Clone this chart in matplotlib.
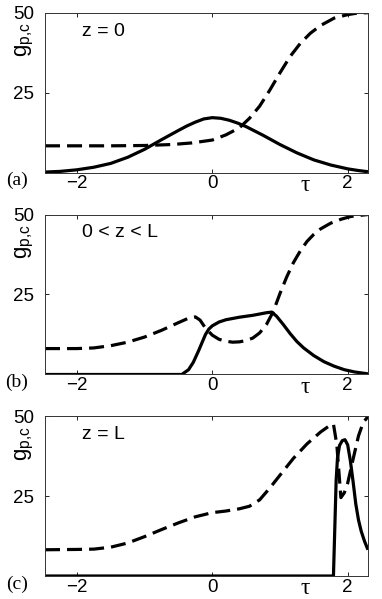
import matplotlib
matplotlib.use("Agg")
import matplotlib.pyplot as plt

# (a) z = 0
tau_a_pump = [-2.47, -2.25, -2.0, -1.75, -1.5, -1.25, -1.0, -0.75, -0.5, -0.375, -0.25,
              -0.125, 0.0, 0.125, 0.25, 0.375, 0.5, 0.75, 1.0, 1.25, 1.5, 1.75,
              2.0, 2.15, 2.3]
g_a_pump = [0.2, 0.4, 0.9, 1.7, 2.9, 4.8, 7.3, 10.3, 13.2, 14.6, 15.8,
            16.8, 17.2, 17.0, 16.4, 15.5, 14.4, 11.7, 8.8, 6.2, 4.0, 2.4,
            1.2, 0.7, 0.3]
tau_a_ctrl = [-2.47, -2.0, -1.5, -1.0, -0.6, -0.3, 0.0, 0.2, 0.4, 0.55, 0.7, 0.85,
              1.0, 1.15, 1.3, 1.45, 1.6, 1.8, 2.0, 2.15, 2.3]
g_a_ctrl = [8.4, 8.4, 8.4, 8.5, 8.8, 9.3, 10.2, 11.8, 14.0, 17.0, 20.8, 25.8,
            31.2, 36.3, 40.4, 43.6, 46.0, 48.3, 49.4, 49.9, 50.0]

# (b) 0 < z < L
tau_b_pump = [-2.47, -0.45, -0.35, -0.28, -0.2, -0.15, -0.1, -0.05, 0.0, 0.1, 0.2,
              0.3, 0.4, 0.5, 0.6, 0.7, 0.8, 0.88, 0.95, 1.05, 1.15, 1.25, 1.35,
              1.5, 1.65, 1.8, 1.95, 2.1, 2.3]
g_b_pump = [0.0, 0.0, 1.5, 3.8, 7.5, 10.0, 12.5, 14.2, 15.2, 16.4, 17.1,
            17.5, 17.9, 18.2, 18.5, 18.9, 19.3, 19.5, 18.2, 15.6, 12.8, 10.3, 8.3,
            5.9, 4.0, 2.6, 1.5, 0.8, 0.2]
tau_b_ctrl = [-2.47, -2.0, -1.75, -1.5, -1.25, -1.0, -0.75, -0.5, -0.35, -0.25,
              -0.18, -0.1, 0.0, 0.1, 0.2, 0.3, 0.4, 0.5, 0.6, 0.7, 0.8, 0.9, 1.0,
              1.1, 1.2, 1.3, 1.4, 1.5, 1.6, 1.75, 1.9, 2.05, 2.3]
g_b_ctrl = [8.1, 8.1, 8.3, 9.0, 10.1, 11.7, 13.8, 16.2, 17.6, 18.0,
            17.0, 14.5, 12.3, 11.0, 10.4, 10.1, 10.2, 10.6, 11.4, 13.0, 15.6, 19.6, 25.3,
            30.5, 35.0, 38.6, 41.6, 43.8, 45.5, 47.3, 48.5, 49.4, 50.0]

# (c) z = L
tau_c_pump = [-2.47, 1.79, 1.81, 1.83, 1.85, 1.88, 1.92, 1.96, 2.0, 2.04, 2.08,
              2.12, 2.16, 2.2, 2.25, 2.3]
g_c_pump = [0.0, 0.0, 15.0, 30.0, 37.0, 40.8, 42.3, 42.6, 41.0, 36.0, 29.5,
            22.5, 17.5, 14.0, 10.8, 8.2]
tau_c_ctrl = [-2.47, -2.0, -1.75, -1.5, -1.25, -1.0, -0.75, -0.5, -0.25, 0.0, 0.2,
              0.4, 0.55, 0.7, 0.85, 1.0, 1.2, 1.4, 1.6, 1.72, 1.79, 1.84, 1.88,
              1.9, 1.95, 2.0, 2.08, 2.16, 2.23, 2.3]
g_c_ctrl = [8.2, 8.3, 8.4, 9.0, 10.3, 12.3, 14.5, 16.6, 18.5, 19.8, 20.3,
            21.0, 21.8, 23.8, 27.5, 31.5, 36.8, 41.3, 45.0, 46.8, 47.5, 41.0, 30.0,
            24.5, 26.0, 29.0, 36.5, 43.8, 48.0, 49.8]

panels = [
    ("(a)", "z = 0", tau_a_pump, g_a_pump, tau_a_ctrl, g_a_ctrl),
    ("(b)", "0 < z < L", tau_b_pump, g_b_pump, tau_b_ctrl, g_b_ctrl),
    ("(c)", "z = L", tau_c_pump, g_c_pump, tau_c_ctrl, g_c_ctrl),
]
xticks = [-2, 0, 2]
xticklabels = ["\u22122", "0", "2"]
yticks = [25, 50]

plt.rcParams["font.family"] = ["Liberation Sans", "DejaVu Sans"]

fig = plt.figure(figsize=(3.82, 5.99), dpi=100)
bottoms = [0.7117, 0.3748, 0.0384]

for (tag, zlabel, tp, gp, tc, gc), b in zip(panels, bottoms):
    ax = fig.add_axes([0.1178, b, 0.8455, 0.2671])
    ax.plot(tp, gp, color="black", lw=2.3, solid_capstyle="butt")
    ax.plot(tc, gc, color="black", lw=2.3, dashes=(4.7, 2.2))
    ax.set_xlim(-2.47, 2.3)
    ax.set_ylim(0, 50)
    ax.set_xticks(xticks)
    ax.set_xticklabels(xticklabels)
    ax.set_yticks(yticks)
    ax.tick_params(direction="in", top=True, right=True, length=3, width=0.6,
                   labelsize=13.5)
    ax.tick_params(axis="x", pad=2)
    ax.tick_params(axis="y", pad=8)
    for s in ax.spines.values():
        s.set_linewidth(0.7)
        s.set_color("#333333")
    ax.text(0.115, 0.885, zlabel, transform=ax.transAxes, fontsize=14,
            ha="left", va="center")
    ax.text(-0.062, 0.83, r"g$_{\mathregular{p{,}c}}$", transform=ax.transAxes,
            rotation=90, fontsize=16, ha="center", va="center")
    ax.text(-0.087, -0.05, tag, transform=ax.transAxes, fontsize=14,
            family="Liberation Serif", ha="center", va="center")
    ax.text(0.807, -0.08, "\u03c4", transform=ax.transAxes, fontsize=17,
            family="Liberation Serif", ha="center", va="center")

fig.savefig("out.png", dpi=100)
